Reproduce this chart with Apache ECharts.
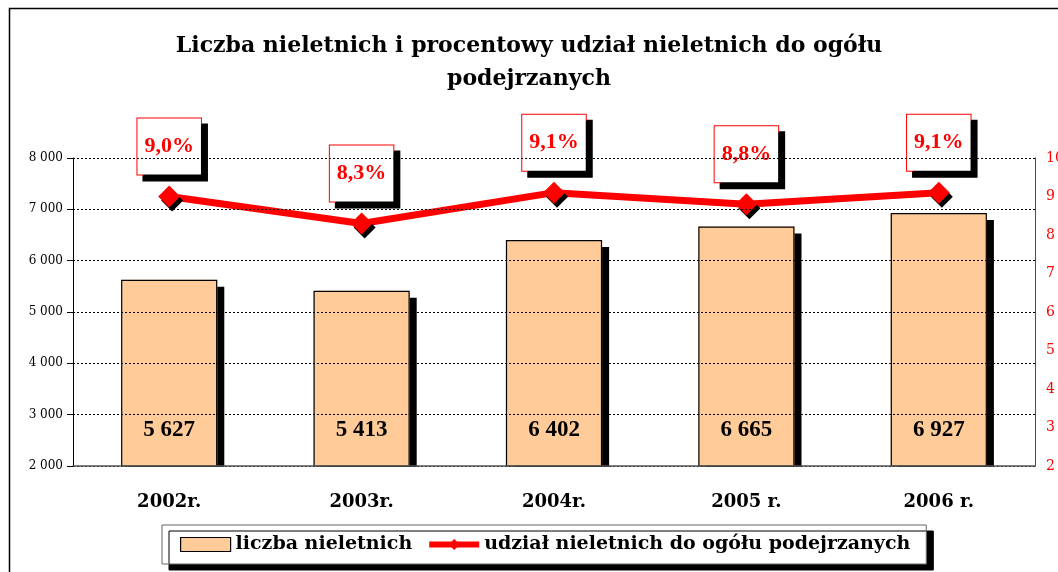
<!DOCTYPE html>
<html><head><meta charset="utf-8">
<script src="https://cdn.jsdelivr.net/npm/echarts@6/dist/echarts.min.js"></script>
<style>html,body{margin:0;padding:0;background:#fff}#c{width:1058px;height:572px}</style>
</head><body><div id="c"></div>
<script>
const categories = ['2002r.', '2003r.', '2004r.', '2005 r.', '2006 r.'];
const juveniles = [5627, 5413, 6402, 6665, 6927];
const sharePct = [9.0, 8.3, 9.1, 8.8, 9.1];
const titleText = 'Liczba nieletnich i procentowy udział nieletnich do ogółu\npodejrzanych';
const barName = 'liczba nieletnich';
const lineName = 'udział nieletnich do ogółu podejrzanych';
const SERIF = '"Liberation Serif", serif';
const WIDE = '"DejaVu Serif", serif';

function thou(v){ return String(v).replace(/\B(?=(\d{3})+(?!\d))/g, ' '); }

const chart = echarts.init(document.getElementById('c'));
chart.setOption({
  backgroundColor: '#fff',
  animation: false,
  title: {
    text: titleText, left: 'center', top: 25,
    textStyle: { fontFamily: WIDE, fontWeight: 'bold', fontSize: 22, color: '#000', lineHeight: 33 }
  },
  graphic: [
    { type: 'rect', z: 0, shape: { x: 9.5, y: 8.5, width: 1100, height: 700 }, style: { fill: null, stroke: '#000', lineWidth: 1.5 } },
    { type: 'rect', z: 5, shape: { x: 80, y: 467, width: 960, height: 12 }, style: { fill: '#fff' } }
  ],
  legend: {
    left: 162, top: 525, padding: [10, 16, 10, 18],
    itemWidth: 50, itemHeight: 14, itemGap: 14,
    backgroundColor: '#fff', borderColor: '#666', borderWidth: 1,
    shadowColor: '#000', shadowBlur: 0, shadowOffsetX: 7, shadowOffsetY: 6,
    textStyle: { fontFamily: WIDE, fontWeight: 'bold', fontSize: 19, color: '#000' },
    data: [
      { name: barName, icon: 'rect', itemStyle: { color: '#FFCC99', borderColor: '#000', borderWidth: 1.2 } },
      { name: lineName, lineStyle: { color: '#ff0000', width: 6 }, itemStyle: { color: '#ff0000' } }
    ]
  },
  grid: { left: 73, right: 23, top: 158, bottom: 106, containLabel: false, outerBoundsMode: 'none' },
  xAxis: {
    type: 'category', data: categories, z: 10,
    axisLine: { lineStyle: { color: '#555', width: 1.5 } },
    axisTick: { show: false },
    axisLabel: { margin: 27, fontFamily: WIDE, fontWeight: 'bold', fontSize: 18, color: '#000' }
  },
  yAxis: [
    {
      type: 'value', min: 2000, max: 8000, interval: 1000, z: 10,
      axisLine: { show: true, lineStyle: { color: '#000', width: 1 } },
      axisTick: { show: true, length: 6, lineStyle: { color: '#000' } },
      axisLabel: { margin: 10, fontFamily: WIDE, fontSize: 12, color: '#000', formatter: v => thou(v) },
      splitLine: { show: true, lineStyle: { color: '#000', type: [2, 2], width: 1 } }
    },
    {
      type: 'value', min: 2, max: 10, interval: 1, position: 'right', z: 10,
      axisLine: { show: true, lineStyle: { color: '#ff0000', width: 1 } },
      axisTick: { show: false },
      axisLabel: { margin: 11, fontFamily: WIDE, fontSize: 14, color: '#ff0000' },
      splitLine: { show: false }
    }
  ],
  series: [
    {
      name: barName, type: 'bar', data: juveniles, barWidth: '50%', z: 2,
      itemStyle: { color: '#FFCC99', borderWidth: 0,
        shadowColor: '#000', shadowBlur: 0, shadowOffsetX: 7, shadowOffsetY: 7 },
      label: { show: true, position: 'insideBottom', distance: 24,
        fontFamily: SERIF, fontWeight: 'bold', fontSize: 23, color: '#000',
        formatter: p => thou(p.value) }
    },
    {
      name: 'outline', type: 'bar', data: juveniles, barWidth: '50%', barGap: '-100%', z: 3,
      itemStyle: { color: 'rgba(0,0,0,0)', borderColor: '#000', borderWidth: 1.2 },
      silent: true
    },
    {
      name: lineName, type: 'line', yAxisIndex: 1, data: sharePct, z: 6,
      symbol: 'diamond', symbolSize: 22,
      lineStyle: { color: '#ff0000', width: 7 },
      itemStyle: { color: '#ff0000', shadowColor: '#000', shadowBlur: 0, shadowOffsetX: 3, shadowOffsetY: 4 },
      label: {
        show: true, position: 'top', distance: 11,
        formatter: p => p.value.toFixed(1).replace('.', ',') + '%',
        fontFamily: SERIF, fontWeight: 'bold', fontSize: 22, color: '#ff0000',
        backgroundColor: '#fff', borderColor: '#ff0000', borderWidth: 1,
        padding: [17, 7, 17, 7],
        shadowColor: '#000', shadowBlur: 0, shadowOffsetX: 6, shadowOffsetY: 6
      }
    }
  ]
});
</script>
</body></html>
